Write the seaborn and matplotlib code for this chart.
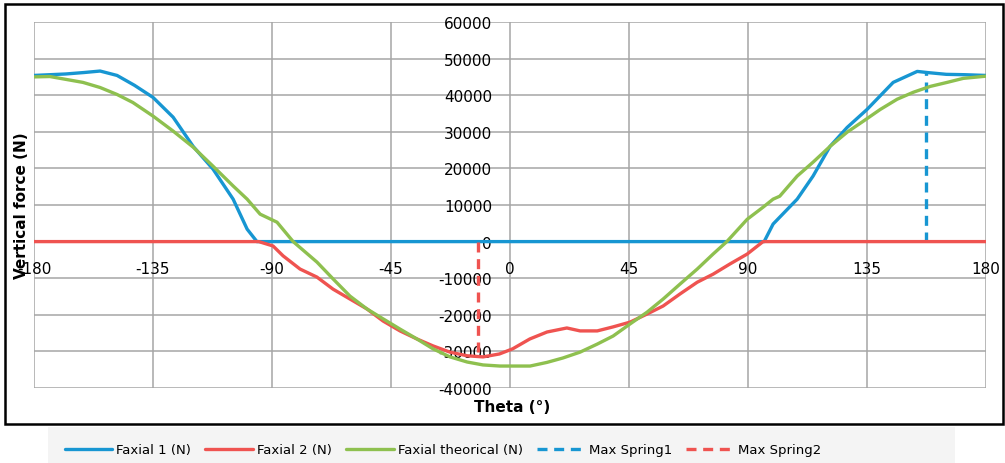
import seaborn as sns
import matplotlib.pyplot as plt
import pandas as pd
from matplotlib.patches import Rectangle

# Faxial 1 (N)
theta1 = [-180, -174, -168, -161, -155, -148.6, -142, -135, -127.4, -119.8, -112.3, -104.7,
          -99.4, -95.7, 0, 96.1, 99.5, 108.6, 114.6, 121, 127.5, 135, 144.9, 154, 157.7, 165, 172, 180]
faxial1 = [45400, 45600, 45800, 46200, 46600, 45400, 42700, 39400, 34000, 26000, 19800, 11600,
           3400, 0, 0, 0, 4800, 11600, 17900, 26000, 31200, 36100, 43500, 46500, 46200, 45700, 45600, 45400]

# Faxial 2 (N)
theta2 = [-180, -95, -89.6, -85.8, -79.4, -73, -66.9, -60.5, -54.1, -48, -41.6, -35.2, -29.1,
          -22.7, -16.2, -10.2, -4, 1, 7.5, 14, 21.5, 26.5, 33, 39, 45.4, 51.8, 57.9, 64.3,
          70.8, 76.8, 83.2, 89.7, 95.7, 180]
faxial2 = [0, 0, -1200, -3900, -7500, -9700, -13000, -15700, -18400, -21700, -24400, -26600, -28500,
           -30200, -31200, -31500, -30700, -29300, -26600, -24700, -23600, -24400, -24400, -23300,
           -22000, -19800, -17600, -14300, -11100, -8900, -6100, -3400, 0, 0]

# Faxial theorical (N)
theta3 = [-180, -174, -161.5, -155, -148.6, -142.6, -135, -127.4, -119.8, -112.3, -104.7, -99.4,
          -94.5, -88.1, -82, -73, -66.9, -60.5, -54.1, -48, -41.6, -35.2, -29.1, -22.7, -16.2,
          -10.2, -3.8, 1.2, 7.6, 14, 20, 26.5, 33, 39, 45.4, 51.8, 57.9, 64.3, 70.8, 76.8, 82,
          89.7, 95.7, 99.5, 102, 108.6, 114.6, 121, 127.5, 133.6, 140, 146.4, 152.5, 158.9,
          165.3, 171.4, 180]
faxial_th = [45000, 45100, 43500, 42100, 40200, 38000, 34300, 30200, 25800, 20600, 15200, 11600,
             7500, 5300, 0, -5600, -10200, -14900, -18400, -21100, -23900, -26600, -29300, -31500,
             -32900, -33700, -34000, -34000, -34000, -33000, -31800, -30200, -28000, -25800,
             -22500, -19300, -15700, -11600, -7500, -3400, 0, 6100, 9400, 11600, 12400, 17900,
             21700, 26000, 29900, 32900, 36100, 38900, 40800, 42400, 43500, 44600, 45200]

# vertical markers
spring1_x = [157.3, 157.3]
spring1_y = [0, 46300]
spring2_x = [-12.1, -12.1]
spring2_y = [0, -31300]

xticks = [-180, -135, -90, -45, 0, 45, 90, 135, 180]
yticks = [-40000, -30000, -20000, -10000, 0, 10000, 20000, 30000, 40000, 50000, 60000]

blue = "#1796d2"
red = "#ef5350"
green = "#8ec04f"

sns.set_style("white")
plt.rcParams['font.family'] = ['DejaVu Sans']
plt.rcParams['text.color'] = 'black'
plt.rcParams['xtick.color'] = 'black'
plt.rcParams['ytick.color'] = 'black'

fig = plt.figure(figsize=(10.05, 4.64), dpi=100)
ax = fig.add_axes([34/1005, (464-389)/464, (986-34)/1005, (389-23)/464])

df1 = pd.DataFrame({'theta': theta1, 'F': faxial1})
df2 = pd.DataFrame({'theta': theta2, 'F': faxial2})
df3 = pd.DataFrame({'theta': theta3, 'F': faxial_th})

lw = 2.4
sns.lineplot(data=df1, x='theta', y='F', ax=ax, color=blue, lw=lw, estimator=None, sort=False,
             label='Faxial 1 (N)', zorder=3)
sns.lineplot(data=df2, x='theta', y='F', ax=ax, color=red, lw=lw, estimator=None, sort=False,
             label='Faxial 2 (N)', zorder=4)
sns.lineplot(data=df3, x='theta', y='F', ax=ax, color=green, lw=lw, estimator=None, sort=False,
             label='Faxial theorical (N)', zorder=5)
sns.lineplot(x=spring1_x, y=spring1_y, ax=ax, color=blue, lw=lw, estimator=None, sort=False,
             label='Max Spring1', zorder=3)
sns.lineplot(x=spring2_x, y=spring2_y, ax=ax, color=red, lw=lw, estimator=None, sort=False,
             label='Max Spring2', zorder=3)
ax.lines[3].set_dashes([3, 2])
ax.lines[4].set_dashes([3, 2])

ax.set_xlim(-180, 180)
ax.set_ylim(-40000, 60000)
ax.set_xticks(xticks)
ax.set_yticks(yticks)
ax.set_xticklabels([str(t) for t in xticks])
ax.set_yticklabels([str(t) for t in yticks])
ax.grid(True, color='#a6a6a6', lw=1.1)
ax.set_axisbelow(True)

for s in ['top', 'right']:
    ax.spines[s].set_visible(False)
ax.spines['left'].set_position(('data', 0))
ax.spines['bottom'].set_position(('data', 0))
ax.spines['left'].set_visible(False)
ax.spines['bottom'].set_visible(False)
ax.tick_params(axis='y', length=0, pad=13, labelsize=11)
ax.tick_params(axis='x', length=0, pad=14, labelsize=11)
ax.set_xlabel('')
ax.set_ylabel('')

fig.text(512/1005, 1 - 408/464, 'Theta (°)', ha='center', va='center', fontsize=11, fontweight='bold')
fig.text(22/1005, 1 - 206/464, 'Vertical force (N)', ha='center', va='center', rotation=90,
         fontsize=11, fontweight='bold')

# outer frame
fig.patches.append(Rectangle((5/1005, 1 - 425/464), 998/1005, 420/464, transform=fig.transFigure,
                             fill=False, edgecolor='black', lw=1.8, zorder=0))
# legend strip
fig.patches.append(Rectangle((48/1005, 0), 907/1005, 36/464, transform=fig.transFigure,
                             facecolor='#f4f4f4', edgecolor='none', zorder=0))

handles, labels = ax.get_legend_handles_labels()
ax.legend_.remove()
leg = fig.legend(handles, labels, loc='center left', bbox_to_anchor=(58/1005, 1 - 451/464), ncol=5,
                 frameon=False, handlelength=3.6, columnspacing=1.1, handletextpad=0.3,
                 borderpad=0, prop={'family': ['Liberation Sans Narrow', 'DejaVu Sans'], 'size': 9.5})

fig.savefig('out.png', dpi=100)
